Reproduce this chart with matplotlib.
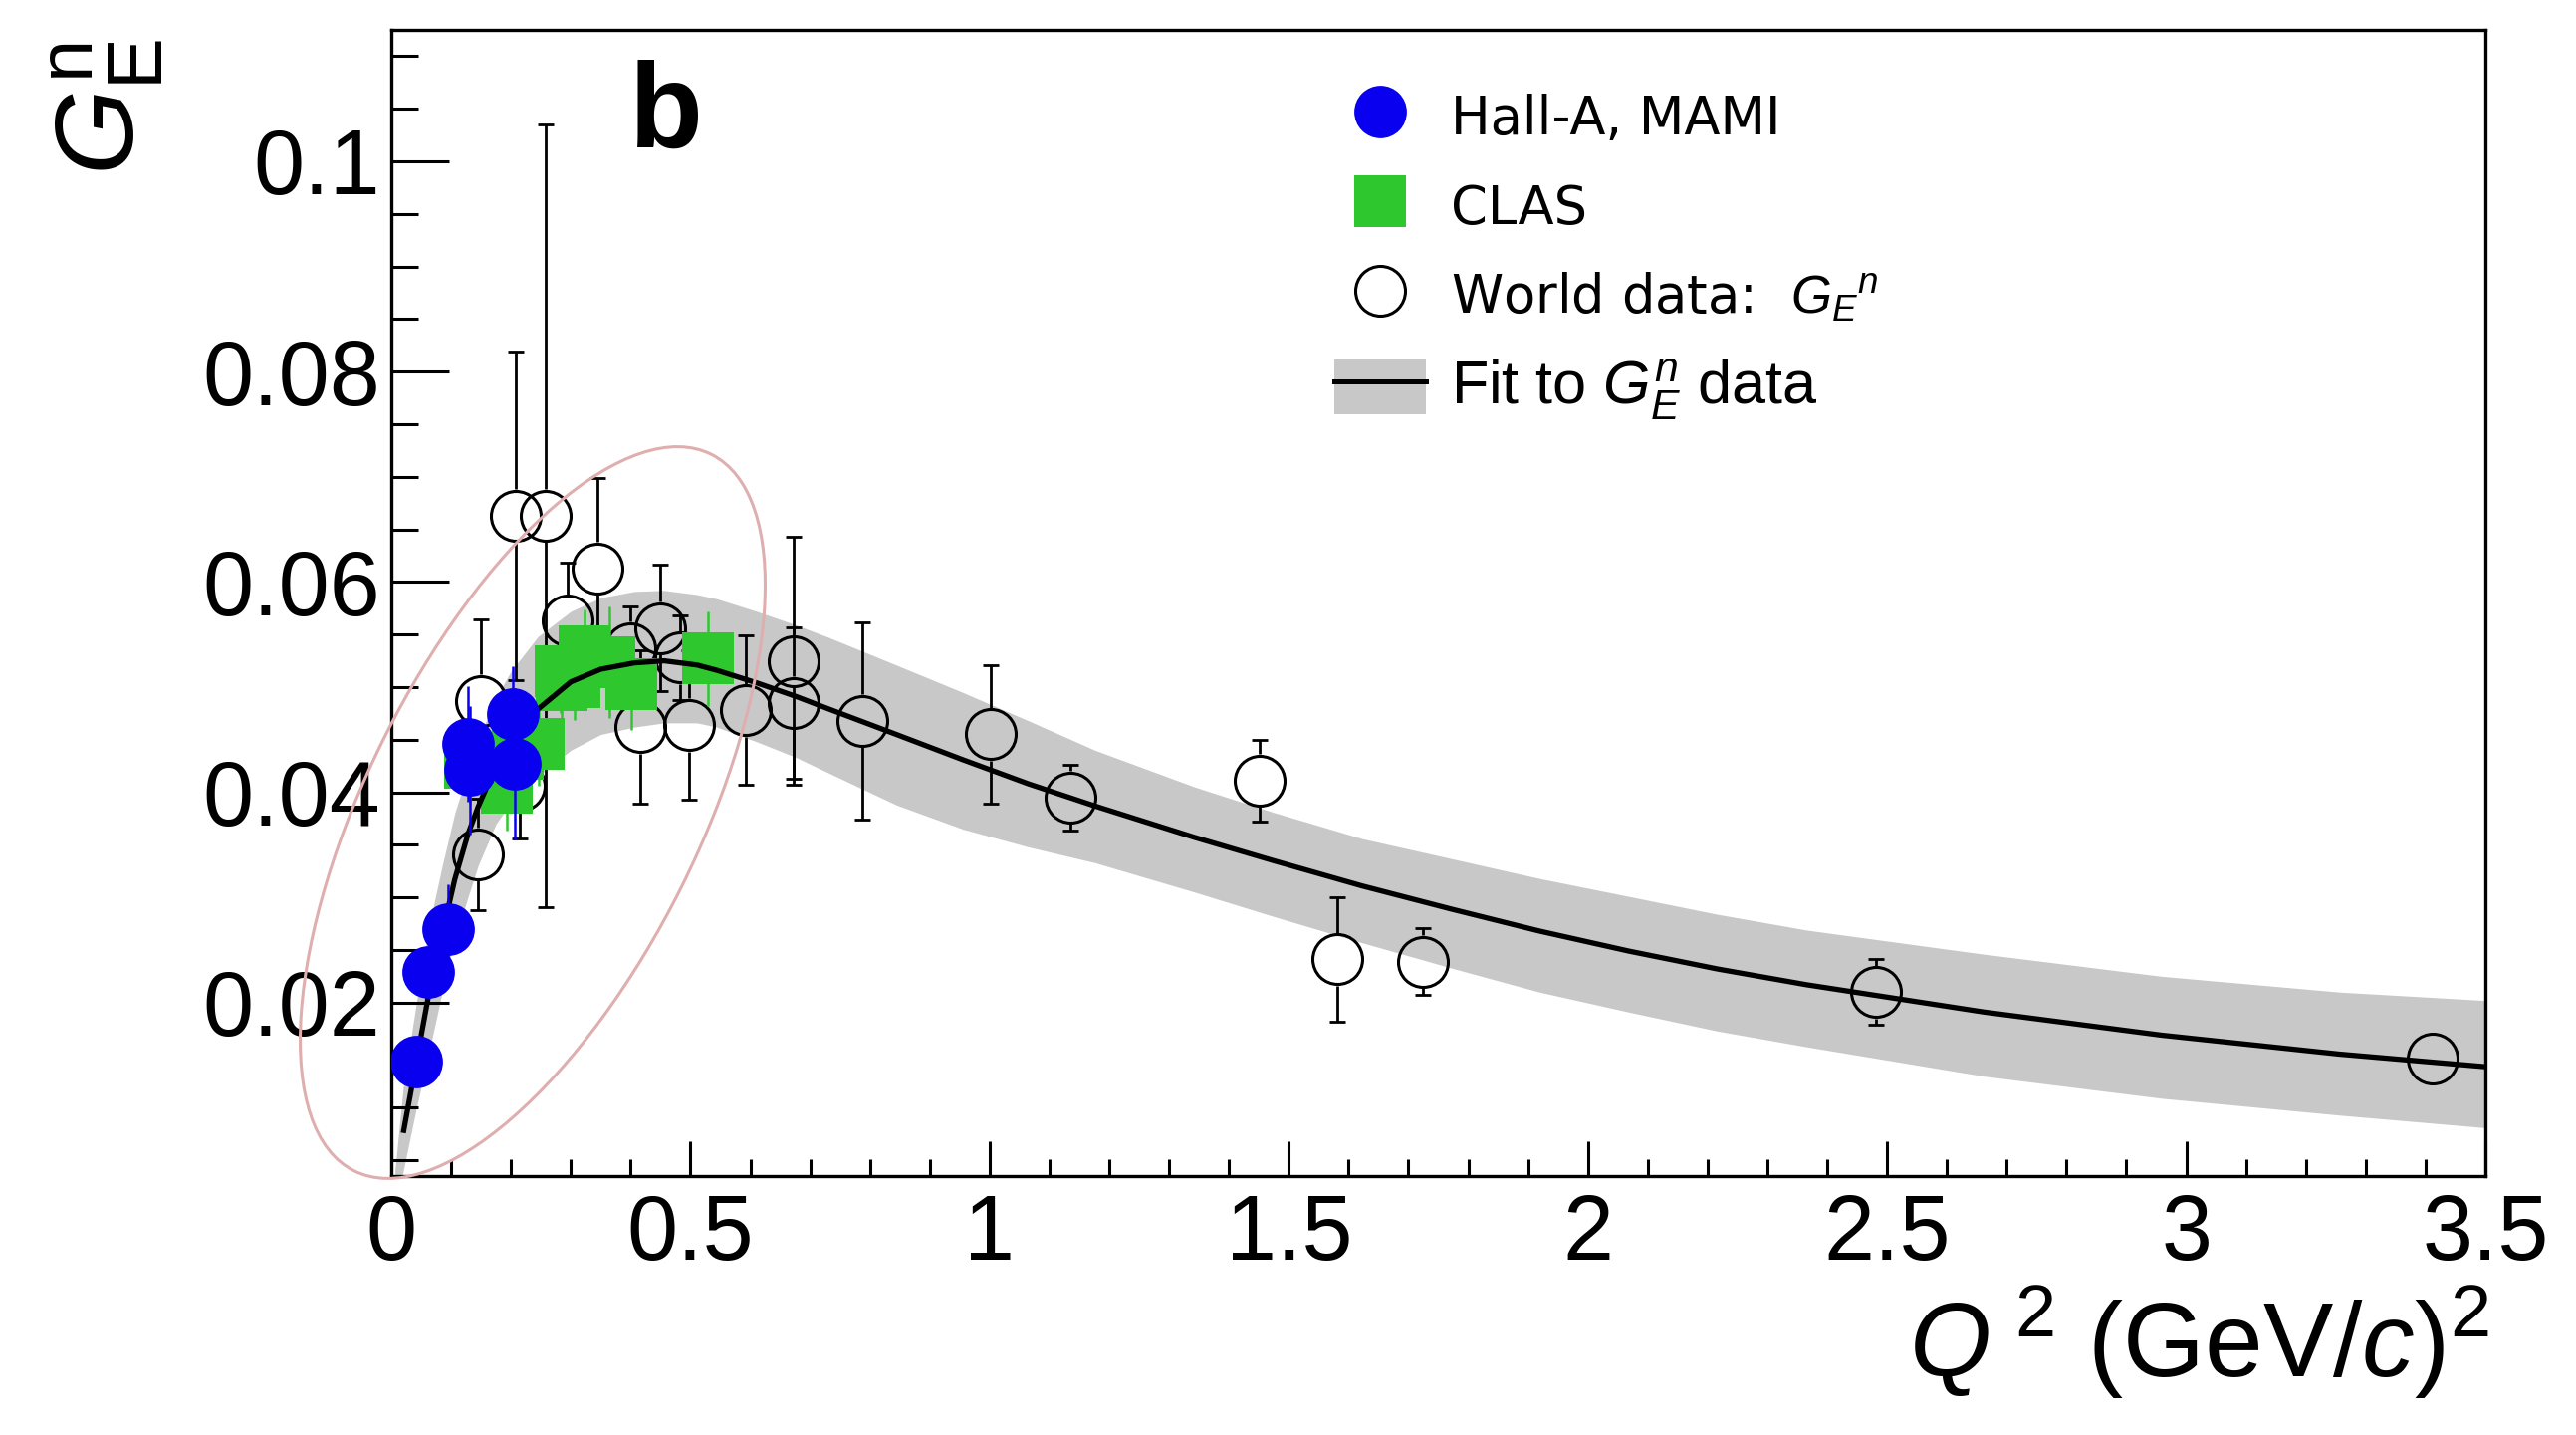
import numpy as np
import matplotlib
matplotlib.use("Agg")
import matplotlib.pyplot as plt
from matplotlib.patches import Ellipse, Patch
from matplotlib.lines import Line2D
from matplotlib.ticker import FixedLocator, MultipleLocator, FixedFormatter

plt.rcParams['font.family'] = ['Liberation Sans', 'DejaVu Sans']
plt.rcParams['mathtext.fontset'] = 'custom'
plt.rcParams['mathtext.rm'] = 'Liberation Sans'
plt.rcParams['mathtext.it'] = 'Liberation Sans:italic'
plt.rcParams['mathtext.bf'] = 'Liberation Sans:bold'

# ---------------- data ----------------
# Hall-A, MAMI
halla_q2 = np.array([0.042, 0.062, 0.095, 0.128, 0.131, 0.203, 0.206])
halla_ge = np.array([0.0144, 0.0229, 0.0270, 0.0446, 0.0421, 0.0474, 0.0427])
halla_err = np.array([0.0015, 0.0018, 0.0042, 0.0055, 0.0061, 0.0046, 0.0072])

# CLAS
clas_q2 = np.array([0.131, 0.193, 0.211, 0.246, 0.283, 0.285, 0.306, 0.323, 0.364, 0.401, 0.529])
clas_ge = np.array([0.0428, 0.0404, 0.0437, 0.0446, 0.0515, 0.0502, 0.0505, 0.0534, 0.0524, 0.0503, 0.0527])
clas_err = np.array([0.0040, 0.0040, 0.0045, 0.0040, 0.0040, 0.0040, 0.0036, 0.0040, 0.0053, 0.0044, 0.0045])

# World data
world_q2 = np.array([0.145, 0.150, 0.208, 0.214, 0.258, 0.295, 0.344, 0.400, 0.416, 0.449,
                     0.482, 0.497, 0.593, 0.672, 0.672, 0.788, 1.002, 1.135, 1.451, 1.581,
                     1.724, 2.481, 3.412])
world_ge = np.array([0.0341, 0.0487, 0.0663, 0.0406, 0.0663, 0.0563, 0.0613, 0.0537, 0.0462, 0.0556,
                     0.0528, 0.0464, 0.0478, 0.0525, 0.0485, 0.0468, 0.0455, 0.0395, 0.0411, 0.0241,
                     0.0239, 0.0210, 0.0147])
world_err = np.array([0.0053, 0.0077, 0.0156, 0.0050, 0.0372, 0.0055, 0.0086, 0.0040, 0.0073, 0.0060,
                      0.0040, 0.0071, 0.0071, 0.0118, 0.0072, 0.0094, 0.0066, 0.0031, 0.0039, 0.0059,
                      0.0032, 0.0031, 0.0010])

# Fit curve and its error band
fit_q2 = np.array([0.006, 0.020, 0.042, 0.062, 0.085, 0.106, 0.128, 0.145, 0.175, 0.200,
                   0.245, 0.300, 0.350, 0.406, 0.456, 0.511, 0.544, 0.611, 0.677, 0.732,
                   0.844, 0.955, 1.065, 1.176, 1.343, 1.474, 1.622, 1.771, 1.919, 2.068,
                   2.216, 2.365, 2.662, 2.959, 3.256, 3.500])
fit_ge = np.array([np.nan, 0.0076, 0.0144, 0.0206, 0.0265, 0.0317, 0.0360, 0.0386, 0.0425, 0.0448,
                   0.0479, 0.0505, 0.0517, 0.0523, 0.0525, 0.0521, 0.0516, 0.0504, 0.0491, 0.0479,
                   0.0455, 0.0431, 0.0408, 0.0387, 0.0357, 0.0335, 0.0311, 0.0289, 0.0268, 0.0249,
                   0.0232, 0.0217, 0.0191, 0.0169, 0.0151, 0.0139])
fit_hi = np.array([0.0040, 0.0120, 0.0200, 0.0270, 0.0330, 0.0380, 0.0420, 0.0450, 0.0490, 0.0515,
                   0.0548, 0.0572, 0.0585, 0.0591, 0.0592, 0.0588, 0.0584, 0.0572, 0.0559, 0.0547,
                   0.0521, 0.0495, 0.0468, 0.0440, 0.0405, 0.0381, 0.0356, 0.0337, 0.0318, 0.0301,
                   0.0284, 0.0269, 0.0246, 0.0225, 0.0210, 0.0202])
fit_lo = np.array([0.0000, 0.0040, 0.0100, 0.0150, 0.0210, 0.0260, 0.0300, 0.0330, 0.0370, 0.0390,
                   0.0415, 0.0440, 0.0455, 0.0462, 0.0466, 0.0466, 0.0462, 0.0448, 0.0433, 0.0418,
                   0.0388, 0.0365, 0.0348, 0.0333, 0.0305, 0.0282, 0.0257, 0.0233, 0.0210, 0.0191,
                   0.0173, 0.0158, 0.0130, 0.0109, 0.0093, 0.0081])

x_major = [0, 0.5, 1, 1.5, 2, 2.5, 3, 3.5]
x_labels = ["0", "0.5", "1", "1.5", "2", "2.5", "3", "3.5"]
y_major = [0.02, 0.04, 0.06, 0.08, 0.1]
y_labels = ["0.02", "0.04", "0.06", "0.08", "0.1"]

labels = ["Hall-A, MAMI", "CLAS", r"World data:  $G_{E}{}^{n}$", r"Fit to $G^{n}_{E}$ data"]

XMIN, XMAX = 0.0, 3.5
YMIN, YMAX = 0.0035, 0.1125

BLUE = '#0a00f0'
GREEN = '#2ec82e'
BAND = '#c8c8c8'

# ---------------- figure ----------------
W, H = 2587, 1441
fig = plt.figure(figsize=(W / 100, H / 100), dpi=100)
fig.patch.set_facecolor('white')
ax = fig.add_axes([393 / W, 1 - 1181 / H, (2496 - 393) / W, (1181 - 30) / H])
ax.set_xlim(XMIN, XMAX)
ax.set_ylim(YMIN, YMAX)

# band + curve
ax.fill_between(fit_q2, fit_lo, fit_hi, color=BAND, lw=0, zorder=1)
ax.plot(fit_q2, fit_ge, color='black', lw=3.8, zorder=4, solid_capstyle='butt', solid_joinstyle='round')

# world data: open circles, error bars drawn outside marker (ROOT style)
open_ms = 36
open_mew = 2.2
px_per_y = ax.bbox.height / (YMAX - YMIN)
r_open = (open_ms / 2 + open_mew / 2) * fig.dpi / 72 / px_per_y
m = world_err > r_open
ax.vlines(world_q2[m], world_ge[m] + r_open, world_ge[m] + world_err[m], color='black', lw=2.0, zorder=2)
ax.vlines(world_q2[m], world_ge[m] - world_err[m], world_ge[m] - r_open, color='black', lw=2.0, zorder=2)
ax.plot(world_q2[m], world_ge[m] + world_err[m], ls='none', marker='_', ms=11, mew=2.0, color='black', zorder=2)
ax.plot(world_q2[m], world_ge[m] - world_err[m], ls='none', marker='_', ms=11, mew=2.0, color='black', zorder=2)
ax.plot(world_q2, world_ge, ls='none', marker='o', ms=open_ms, mfc='none', mec='black', mew=open_mew, zorder=2.2)

# CLAS
ax.errorbar(clas_q2, clas_ge, yerr=clas_err, fmt='s', ms=37, color=GREEN, mew=0,
            ecolor=GREEN, elinewidth=1.8, capsize=5.5, capthick=1.8, zorder=3)

# Hall-A, MAMI
ax.errorbar(halla_q2, halla_ge, yerr=halla_err, fmt='o', ms=38, color=BLUE, mew=0,
            ecolor=BLUE, elinewidth=1.8, capsize=5.5, capthick=1.8, zorder=5)

# axes styling
for s in ax.spines.values():
    s.set_linewidth(2.4)
ax.xaxis.set_major_locator(FixedLocator(x_major))
ax.xaxis.set_major_formatter(FixedFormatter(x_labels))
ax.xaxis.set_minor_locator(MultipleLocator(0.1))
ax.yaxis.set_major_locator(FixedLocator(y_major))
ax.yaxis.set_major_formatter(FixedFormatter(y_labels))
ax.yaxis.set_minor_locator(MultipleLocator(0.005))
ax.tick_params(axis='both', which='both', direction='in', top=False, right=False, width=2.2, labelsize=66)
ax.tick_params(axis='x', which='major', length=25, pad=12)
ax.tick_params(axis='x', which='minor', length=12.5)
ax.tick_params(axis='y', which='major', length=42, pad=8)
ax.tick_params(axis='y', which='minor', length=19.5)

# panel label
ax.text((632 - 393) / (2496 - 393), (1181 - 148) / (1181 - 30), 'b', transform=ax.transAxes,
        fontsize=87, fontweight='bold', ha='left', va='baseline')

# axis titles
fig.text(2500 / W, 1 - 1383 / H, r'$Q^{\;2}$ (GeV/$c$)$^{2}$', ha='right', va='baseline', fontsize=76)
fig.text(108 / W, 1 - 108 / H, r'$G^{\mathrm{n}}_{\mathrm{E}}$', rotation=90, ha='center', va='center', fontsize=80)

# legend
h1 = Line2D([], [], ls='none', marker='o', ms=38, mfc=BLUE, mec=BLUE, mew=0)
h2 = Line2D([], [], ls='none', marker='s', ms=37, mfc=GREEN, mec=GREEN, mew=0)
h3 = Line2D([], [], ls='none', marker='o', ms=36, mfc='none', mec='black', mew=2.2)
h4 = (Patch(facecolor=BAND, edgecolor='none'), Line2D([], [], color='black', lw=3.6))
fs = 38
fs_px = fs * 100 / 72
leg = ax.legend([h1, h2, h3, h4], labels, loc='upper left',
                bbox_to_anchor=(1340 / W, 1 - 89 / H), bbox_transform=fig.transFigure,
                frameon=False, fontsize=fs, handlelength=92 / fs_px, handleheight=66 / fs_px,
                handletextpad=25 / fs_px, labelspacing=0.63, borderpad=0, borderaxespad=0)
for t in leg.get_texts()[:3]:
    t.set_fontfamily(['DejaVu Sans'])
leg.get_texts()[3].set_fontsize(44)

# hand-drawn highlight ellipse (figure inches)
ell = Ellipse((535 / 100, (H - 816) / 100), width=8.04, height=3.34, angle=63.5,
              transform=fig.dpi_scale_trans, fill=False, edgecolor='#dfaeae', lw=2.2, zorder=10)
fig.add_artist(ell)

fig.savefig('out.png', dpi=100)
